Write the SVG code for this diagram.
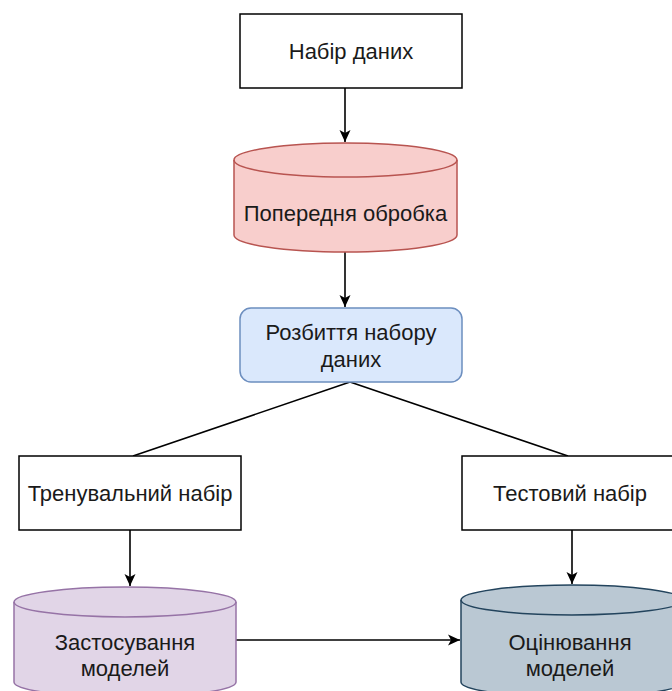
<svg xmlns="http://www.w3.org/2000/svg" width="672" height="691" viewBox="0 0 672 691">
<defs>
<marker id="arr" viewBox="0 0 12 12" refX="12" refY="6" markerWidth="12" markerHeight="12" markerUnits="userSpaceOnUse" orient="auto">
<path d="M0,0.5 L12,6 L0,11.5 L3,6 Z" fill="#000"/>
</marker>
<style>
text{font-family:"Liberation Sans",Arial,sans-serif;font-size:22px;fill:#1a1a1a;text-anchor:middle;dominant-baseline:central}
.box{fill:#fff;stroke:#000;stroke-width:1.5}
.edge{fill:none;stroke:#000;stroke-width:1.6}
</style>
</defs>
<rect width="672" height="691" fill="#fff"/>
<g id="connectors">
<line class="edge" x1="345" y1="88" x2="345" y2="142" marker-end="url(#arr)"/>
<line class="edge" x1="345" y1="252" x2="345" y2="307" marker-end="url(#arr)"/>
<line class="edge" x1="350" y1="382" x2="133" y2="456"/>
<line class="edge" x1="350" y1="382" x2="568" y2="456"/>
<line class="edge" x1="130" y1="530" x2="130" y2="586" marker-end="url(#arr)"/>
<line class="edge" x1="572" y1="530" x2="572" y2="584" marker-end="url(#arr)"/>
<line class="edge" x1="236" y1="640" x2="460" y2="640" marker-end="url(#arr)"/>
</g>
<g id="dataset">
<rect class="box" x="240" y="14" width="222" height="74"/>
<text x="351" y="51">Набір даних</text>
</g>
<g id="preprocess">
<path d="M234,160 a111.5,17 0 0 1 223,0 v75 a111.5,17 0 0 1 -223,0 Z" fill="#f8cecc" stroke="#b85450" stroke-width="1.5"/>
<path d="M234,160 a111.5,17 0 0 0 223,0" fill="none" stroke="#b85450" stroke-width="1.5"/>
<text x="345.5" y="213">Попередня обробка</text>
</g>
<g id="split">
<rect x="240" y="308" width="222" height="74" rx="11" fill="#dae8fc" stroke="#6c8ebf" stroke-width="1.5"/>
<text x="351" y="332">Розбиття набору</text>
<text x="351" y="359">даних</text>
</g>
<g id="train">
<rect class="box" x="19" y="456" width="222" height="74"/>
<text x="130" y="493">Тренувальний набір</text>
</g>
<g id="test">
<rect class="box" x="462" y="456" width="222" height="74"/>
<text x="570" y="493">Тестовий набір</text>
</g>
<g id="apply">
<path d="M14,602 a111,15 0 0 1 222,0 v80 a111,15 0 0 1 -222,0 Z" fill="#e1d5e7" stroke="#9673a6" stroke-width="1.5"/>
<path d="M14,602 a111,15 0 0 0 222,0" fill="none" stroke="#9673a6" stroke-width="1.5"/>
<text x="125" y="642">Застосування</text>
<text x="125" y="668">моделей</text>
</g>
<g id="evaluate">
<path d="M461,600 a111,15 0 0 1 222,0 v82 a111,15 0 0 1 -222,0 Z" fill="#bac8d3" stroke="#23445d" stroke-width="1.5"/>
<path d="M461,600 a111,15 0 0 0 222,0" fill="none" stroke="#23445d" stroke-width="1.5"/>
<text x="570" y="642">Оцінювання</text>
<text x="570" y="668">моделей</text>
</g>
</svg>
